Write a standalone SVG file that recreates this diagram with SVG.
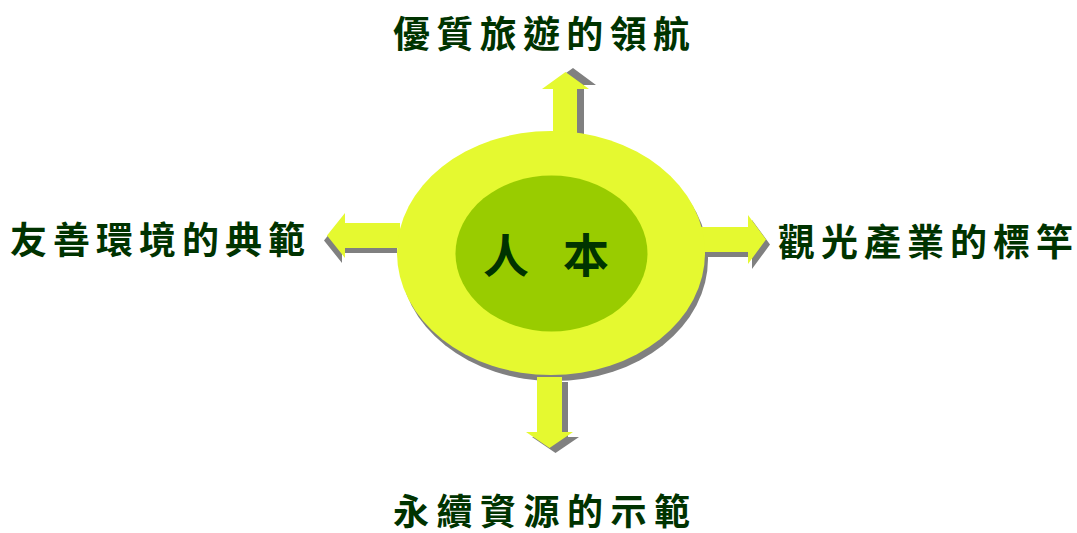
<svg xmlns="http://www.w3.org/2000/svg" width="1077" height="533" viewBox="0 0 1077 533">
<style>
.lbl{font-family:"Noto Sans CJK TC","Noto Sans CJK SC",sans-serif;font-weight:700;fill:#003300;}
.shadow{fill:#808080;}
.arrow{fill:#E5F930;}
</style>
<rect width="1077" height="533" fill="#ffffff"/>
<g id="core-shadow">
<ellipse class="shadow" cx="554" cy="259" rx="154" ry="122"/>
</g>
<g id="connectors">
<polygon class="shadow" points="560,138 560,85 549,85 573,68 596,85 584,85 584,138"/>
<polygon class="arrow" points="553,142 553,89 542,89 565.5,72 589,89 577,89 577,142"/>
<polygon class="shadow" points="397,228 342,228 342,218 324,240.5 342,263 342,253 397,253"/>
<polygon class="arrow" points="400,223 345,223 345,213 327,235.5 345,258 345,248 400,248"/>
<polygon class="shadow" points="704,232 752,232 752,220 770,244.5 752,269 752,257 704,257"/>
<polygon class="arrow" points="700,227 748,227 748,215 766,239.5 748,264 748,252 700,252"/>
<polygon class="shadow" points="543,382 568,382 568,437 579,437 555.5,453 532,437 543,437"/>
<polygon class="arrow" points="537,377 562,377 562,432 573,432 549.5,448 526,432 537,432"/>
</g>
<g id="core">
<ellipse cx="551" cy="253" rx="154" ry="122" fill="#E5F930"/>
<ellipse cx="551.5" cy="253.5" rx="96" ry="78" fill="#99CC00"/>
<text class="lbl" x="506" y="272" font-size="46" text-anchor="middle">人</text>
<text class="lbl" x="586" y="272" font-size="46" text-anchor="middle">本</text>
</g>
<g id="node-top">
<text class="lbl" x="393" y="48" font-size="37" textLength="297" lengthAdjust="spacing">優質旅遊的領航</text>
</g>
<g id="node-left">
<text class="lbl" x="10" y="254" font-size="37" textLength="295" lengthAdjust="spacing">友善環境的典範</text>
</g>
<g id="node-right">
<text class="lbl" x="778" y="256" font-size="37" textLength="295" lengthAdjust="spacing">觀光產業的標竿</text>
</g>
<g id="node-bottom">
<text class="lbl" x="393" y="525" font-size="36" textLength="297" lengthAdjust="spacing">永續資源的示範</text>
</g>
</svg>
